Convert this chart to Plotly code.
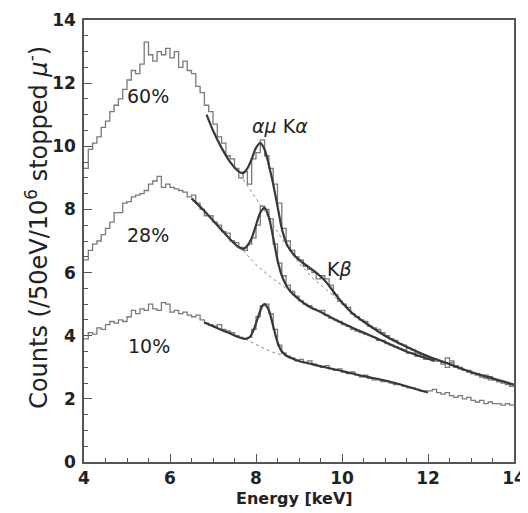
import numpy as np
import plotly.graph_objects as go

# ---------------- data ----------------
E_MIN = 4.0
BIN_WIDTH = 0.1  # keV

counts_60 = [9.3, 9.9, 10.1, 10.3, 10.6, 10.8, 11.1, 11.3, 11.5, 11.8,
             12.1, 12.4, 12.3, 12.6, 13.3, 12.9, 12.7, 13.0, 12.9, 13.1,
             12.8, 13.0, 12.5, 12.7, 12.4, 12.3, 11.9, 11.7, 11.3, 11.1,
             10.7, 10.3, 10.1, 9.7, 9.6, 9.3, 9.0, 9.2, 8.8, 9.6,
             9.8, 10.2, 9.7, 9.3, 8.8, 8.2, 7.4, 7.0, 6.7, 6.5,
             6.4, 6.2, 6.1, 6.0, 5.8, 5.9, 5.8, 5.6, 5.3, 5.1,
             5.0, 4.9, 4.7, 4.6, 4.5, 4.45, 4.3, 4.25, 4.2, 4.1,
             4.0, 3.9, 3.85, 3.75, 3.7, 3.6, 3.55, 3.45, 3.4, 3.35,
             3.3, 3.25, 3.2, 3.1, 3.3, 3.2, 3.0, 3.0, 2.9, 2.85,
             2.8, 2.75, 2.7, 2.75, 2.6, 2.6, 2.55, 2.55, 2.5, 2.45]

counts_28 = [6.4, 6.7, 6.9, 7.0, 7.2, 7.4, 7.6, 7.9, 7.9, 8.2,
             8.25, 8.4, 8.45, 8.5, 8.6, 8.8, 8.9, 9.05, 8.7, 8.8,
             8.7, 8.65, 8.6, 8.55, 8.4, 8.45, 8.2, 8.0, 7.8, 7.8,
             7.6, 7.5, 7.3, 7.25, 7.0, 6.95, 6.8, 6.7, 6.9, 7.1,
             7.5, 8.1, 8.0, 7.7, 6.9, 6.3, 5.9, 5.6, 5.4, 5.25,
             5.1, 5.0, 4.95, 4.85, 4.8, 4.8, 4.65, 4.55, 4.5, 4.45,
             4.35, 4.3, 4.2, 4.15, 4.1, 4.05, 4.0, 3.95, 3.85, 3.85,
             3.75, 3.7, 3.65, 3.6, 3.55, 3.45, 3.45, 3.35, 3.35, 3.25,
             3.25, 3.2, 3.2, 3.15, 3.0, 3.15, 3.05, 2.95, 2.9, 2.9,
             2.8, 2.8, 2.7, 2.65, 2.7, 2.6, 2.55, 2.5, 2.45, 2.4]

counts_10 = [3.9, 4.1, 4.05, 4.25, 4.2, 4.35, 4.45, 4.4, 4.5, 4.45,
             4.6, 4.8, 4.7, 4.85, 4.8, 5.0, 4.85, 4.8, 5.05, 5.0,
             4.75, 4.8, 4.7, 4.75, 4.65, 4.6, 4.65, 4.5, 4.4, 4.35,
             4.3, 4.35, 4.2, 4.15, 4.1, 4.0, 3.95, 3.9, 3.95, 4.2,
             4.6, 4.95, 5.0, 4.7, 4.2, 3.7, 3.45, 3.35, 3.3, 3.2,
             3.25, 3.15, 3.2, 3.1, 3.05, 3.0, 3.05, 2.95, 2.9, 2.95,
             2.85, 2.8, 2.85, 2.75, 2.7, 2.75, 2.65, 2.6, 2.6, 2.55,
             2.55, 2.5, 2.45, 2.45, 2.4, 2.35, 2.35, 2.3, 2.25, 2.25,
             2.25, 2.3, 2.2, 2.15, 2.2, 2.1, 2.05, 2.1, 2.0, 2.05,
             1.95, 1.9, 1.95, 1.85, 1.9, 1.85, 1.85, 1.8, 1.85, 1.8]

# fitted curves (energy, value)
fit60_e = [6.85, 7.0, 7.2, 7.4, 7.6, 7.7, 7.8, 7.9, 8.0, 8.1, 8.2, 8.3, 8.4, 8.5,
           8.6, 8.7, 8.8, 9.0, 9.2, 9.4, 9.6, 9.8, 10.0, 10.25, 10.5, 11.0,
           11.5, 12.0, 12.5, 13.0, 13.5, 14.0]
fit60_v = [11.0, 10.5, 9.95, 9.5, 9.2, 9.15, 9.3, 9.6, 9.95, 10.1, 9.9, 9.4, 8.8, 8.1,
           7.4, 6.95, 6.7, 6.4, 6.2, 6.0, 5.75, 5.4, 5.05, 4.7, 4.45, 4.0,
           3.65, 3.35, 3.1, 2.85, 2.65, 2.45]

fit28_e = [6.5, 6.8, 7.0, 7.2, 7.4, 7.6, 7.7, 7.8, 7.9, 8.0, 8.1, 8.2, 8.3, 8.4,
           8.5, 8.6, 8.7, 8.8, 9.0, 9.2, 9.5, 10.0, 10.5, 11.0, 11.5, 12.15]
fit28_v = [8.35, 7.95, 7.65, 7.35, 7.05, 6.8, 6.75, 6.85, 7.1, 7.5, 7.9, 8.05, 7.75, 7.1,
           6.4, 5.9, 5.6, 5.4, 5.15, 4.95, 4.75, 4.4, 4.1, 3.8, 3.5, 3.2]

fit10_e = [6.8, 7.0, 7.2, 7.4, 7.6, 7.75, 7.85, 7.95, 8.05, 8.15, 8.2, 8.3, 8.4,
           8.5, 8.6, 8.7, 8.8, 9.0, 9.3, 9.6, 10.0, 10.5, 11.0, 11.5, 12.0]
fit10_v = [4.42, 4.3, 4.18, 4.07, 3.95, 3.9, 3.95, 4.2, 4.6, 4.95, 5.0, 4.8, 4.3,
           3.8, 3.5, 3.38, 3.3, 3.2, 3.1, 3.0, 2.88, 2.72, 2.58, 2.4, 2.2]

# background (dashed) under the peaks
bg60_e = [7.7, 8.2, 8.7, 9.0, 9.3, 9.6, 9.9, 10.2]
bg60_v = [8.95, 7.95, 6.85, 6.3, 5.85, 5.5, 5.15, 4.8]
bg28_e = [7.7, 8.0, 8.3, 8.6, 8.8]
bg28_v = [6.7, 6.25, 5.9, 5.6, 5.4]
bg10_e = [7.75, 8.1, 8.4, 8.7]
bg10_v = [3.9, 3.65, 3.47, 3.35]

labels = ["60%", "28%", "10%"]
label_e = [5.49, 5.49, 5.52]
label_v = [11.6, 7.19, 3.66]

peak_labels = ["<i>αμ</i> K<i>α</i>", "K<i>β</i>"]
peak_label_e = [8.55, 9.95]
peak_label_v = [10.63, 6.12]

x_ticks = [4, 6, 8, 10, 12, 14]
y_ticks = [0, 2, 4, 6, 8, 10, 12, 14]

# ---------------- figure ----------------
FONT = "DejaVu Sans"
HIST_COLOR = "#7a7a7a"
FIT_COLOR = "#383838"
BG_COLOR = "#8a8a8a"

fig = go.Figure()


def step_xy(vals):
    n = len(vals)
    edges = E_MIN + BIN_WIDTH * np.arange(n + 1)
    return edges, list(vals) + [vals[-1]]


for vals in (counts_60, counts_28, counts_10):
    xs, ys = step_xy(vals)
    fig.add_trace(go.Scatter(x=xs, y=ys, mode="lines", line_shape="hv",
                             line=dict(color=HIST_COLOR, width=1.3),
                             showlegend=False, hoverinfo="skip"))

for be, bv in ((bg60_e, bg60_v), (bg28_e, bg28_v), (bg10_e, bg10_v)):
    fig.add_trace(go.Scatter(x=be, y=bv, mode="lines",
                             line=dict(color=BG_COLOR, width=1, dash="3px,3px"),
                             showlegend=False, hoverinfo="skip"))

for fe, fv in ((fit60_e, fit60_v), (fit28_e, fit28_v), (fit10_e, fit10_v)):
    fig.add_trace(go.Scatter(x=fe, y=fv, mode="lines", line_shape="spline",
                             line=dict(color=FIT_COLOR, width=2.2, smoothing=0.8),
                             showlegend=False, hoverinfo="skip"))

for t, e, v in zip(labels, label_e, label_v):
    fig.add_annotation(x=e, y=v, text=t, showarrow=False,
                       font=dict(family=FONT, size=19, color="#222"))

for t, e, v in zip(peak_labels, peak_label_e, peak_label_v):
    fig.add_annotation(x=e, y=v, text=t, showarrow=False,
                       font=dict(family=FONT, size=19, color="#222"))

fig.add_annotation(xref="paper", yref="paper", x=-0.108, y=0.531,
                   text="Counts (/50eV/10<sup>6</sup> stopped <i>μ</i><sup>-</sup>)",
                   textangle=-90, showarrow=False, xanchor="center", yanchor="middle",
                   font=dict(family=FONT, size=24, color="#222"))

fig.add_annotation(xref="paper", yref="paper", x=0.49, y=-0.083,
                   text="<b>Energy [keV]</b>", showarrow=False,
                   xanchor="center", yanchor="middle",
                   font=dict(family=FONT, size=16, color="#222"))

axis_common = dict(showgrid=False, zeroline=False, mirror=True,
                   showline=True, linecolor="#555", linewidth=1.5,
                   ticks="inside", ticklen=8, tickcolor="#555", tickwidth=1.2,
                   ticklabeloverflow="allow",
                   tickfont=dict(family=FONT, size=17, color="#222", weight="bold"),
                   minor=dict(ticks="inside", ticklen=4, dtick=0.5,
                              tickcolor="#555", tickwidth=1, showgrid=False))

fig.update_xaxes(range=[4, 14], tickvals=x_ticks, ticktext=[str(t) for t in x_ticks],
                 **axis_common)
fig.update_yaxes(range=[0, 14], tickvals=y_ticks, ticktext=[str(t) for t in y_ticks],
                 ticklabelstandoff=3, **axis_common)

# the page body adds an 8px margin, so the figure is sized to fit the window
fig.update_layout(width=520, height=505,
                  margin=dict(l=76, r=2, t=10, b=51),
                  paper_bgcolor="white", plot_bgcolor="white",
                  showlegend=False)

fig.write_html("out.html")
